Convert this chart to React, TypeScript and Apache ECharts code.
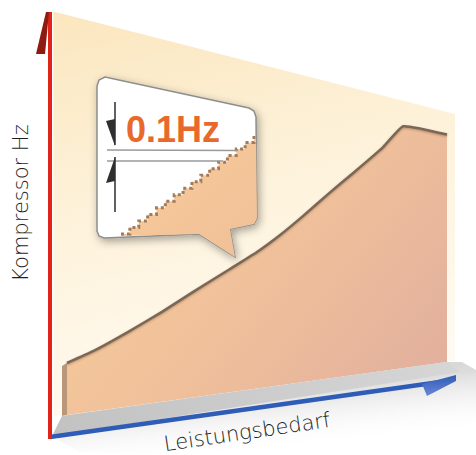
import React, { useEffect, useRef } from "react";
import * as echarts from "echarts";

// Demand curve: load (Leistungsbedarf, % of range) vs compressor frequency (% of range)
const loadPct = [0, 7, 16, 25, 33, 43, 50, 56, 62, 69, 75, 83, 88.5, 100];
const compressorHz = [13, 15.5, 19.8, 24.8, 30, 36.8, 42, 47.5, 54, 62.5, 70, 81, 90.5, 91];

const yAxisLabel = "Kompressor Hz";
const xAxisLabel = "Leistungsbedarf";
const stepLabel = "0.1Hz";
const STEP_COUNT = 15;

// perspective of the drawn plane (style)
const BASE_RISE = 53;
const SHRINK = 0.375;

const FONT = "'DejaVu Sans', 'Liberation Sans', sans-serif";

function makeProjector(api: any) {
  const o = api.coord([0, 0]);
  const r = api.coord([100, 0]);
  const w = r[0] - o[0];
  return (xv: number, yv: number) => {
    const p = api.coord([xv, yv]);
    const u = (p[0] - o[0]) / w;
    const base = o[1] - BASE_RISE * u;
    const k = 1 - SHRINK * u;
    return [p[0], base - (o[1] - p[1]) * k];
  };
}

function stairPoints(x0: number, y0: number, x1: number, y1: number, n: number) {
  const pts: number[][] = [[x0, y0]];
  const dx = (x1 - x0) / n;
  const dy = (y1 - y0) / n;
  let x = x0;
  let y = y0;
  for (let i = 0; i < n; i++) {
    x += dx;
    pts.push([x, y]);
    y += dy;
    pts.push([x, y]);
  }
  return pts;
}

export default function App() {
  const ref = useRef<HTMLDivElement>(null);

  useEffect(() => {
    if (!ref.current) return;
    const chart = echarts.init(ref.current, undefined, { renderer: "svg" });

    const stairs = stairPoints(121, 234, 254, 136, STEP_COUNT);
    const bubbleFill = [
      ...stairs,
      [256, 136],
      [257, 218],
      [254, 224],
      [230, 229],
      [235, 257],
      [199, 234],
      [121, 236],
    ];

    const option: any = {
      animation: false,
      backgroundColor: "#ffffff",
      grid: { left: 67, top: 15, width: 380, height: 400 },
      xAxis: { type: "value", min: 0, max: 100, show: false },
      yAxis: { type: "value", min: 0, max: 100, show: false },
      series: [
        {
          type: "custom",
          name: "plane",
          z: 1,
          silent: true,
          data: [[0, 0]],
          renderItem: (params: any, api: any) => {
            const P = makeProjector(api);
            return {
              type: "polygon",
              shape: { points: [P(-3.6, 100), P(102.1, 100), P(102.1, 0), P(-3.6, 0)] },
              style: {
                fill: {
                  type: "linear",
                  x: 0,
                  y: 0,
                  x2: 0.25,
                  y2: 1,
                  colorStops: [
                    { offset: 0, color: "#fbe6be" },
                    { offset: 0.45, color: "#fdf1d8" },
                    { offset: 1, color: "#fffaf1" },
                  ],
                },
              },
            };
          },
        },
        {
          type: "custom",
          name: yAxisLabel,
          z: 2,
          silent: true,
          data: loadPct.map((x, i) => [x, compressorHz[i]]),
          renderItem: (params: any, api: any) => {
            if (params.dataIndex !== 0) return null;
            const P = makeProjector(api);
            const curve = loadPct.map((x, i) => P(x, compressorHz[i]));
            const b0 = P(0, 0);
            const b1 = P(100, 0);
            const p0 = curve[0];
            return {
              type: "group",
              children: [
                {
                  type: "polygon",
                  shape: { points: [...curve, b1, b0] },
                  style: {
                    fill: {
                      type: "linear",
                      x: 0,
                      y: 0.2,
                      x2: 1,
                      y2: 0.8,
                      colorStops: [
                        { offset: 0, color: "#f8cc99" },
                        { offset: 0.55, color: "#efbf9b" },
                        { offset: 1, color: "#e2b09d" },
                      ],
                    },
                  },
                },
                {
                  type: "polygon",
                  shape: {
                    points: [
                      [p0[0] - 5, p0[1] + 3],
                      p0,
                      b0,
                      [b0[0] - 5, b0[1] + 1],
                    ],
                  },
                  style: { fill: "#b8977b" },
                },
                {
                  type: "polyline",
                  shape: { points: curve, smooth: 0.12 },
                  style: {
                    stroke: "#7b6654",
                    lineWidth: 2.5,
                    fill: null,
                    lineJoin: "round",
                    shadowBlur: 2,
                    shadowColor: "rgba(80,60,40,0.4)",
                    shadowOffsetY: 1,
                  },
                },
              ],
            };
          },
        },
      ],
      graphic: [
        // floor shadow
        {
          type: "polygon",
          z: 3,
          silent: true,
          shape: {
            points: [
              [58, 440],
              [62, 416],
              [447, 362],
              [462, 362],
              [476, 370],
              [476, 455],
              [140, 455],
              [80, 452],
            ],
          },
          style: {
            fill: {
              type: "linear",
              x: 0,
              y: 0,
              x2: 0.45,
              y2: 1,
              colorStops: [
                { offset: 0, color: "#c8c8c8" },
                { offset: 0.45, color: "#dcdcdc" },
                { offset: 1, color: "rgba(255,255,255,0)" },
              ],
            },
          },
        },
        {
          type: "polygon",
          z: 3,
          silent: true,
          shape: {
            points: [
              [62, 416],
              [447, 362],
              [460, 372],
              [52, 436],
            ],
          },
          style: {
            fill: {
              type: "linear",
              x: 0,
              y: 0,
              x2: 1,
              y2: 0,
              colorStops: [
                { offset: 0, color: "#c2c2c2" },
                { offset: 1, color: "#d6d6d6" },
              ],
            },
          },
        },
        // x axis arrow (blue)
        {
          type: "line",
          z: 4,
          silent: true,
          shape: { x1: 50, y1: 437, x2: 440, y2: 382 },
          style: { stroke: "#2f5cb6", lineWidth: 4.5 },
        },
        {
          type: "polygon",
          z: 4,
          silent: true,
          shape: {
            points: [
              [422, 384],
              [456, 375],
              [456, 381],
              [427, 396],
            ],
          },
          style: {
            fill: {
              type: "linear",
              x: 0,
              y: 0,
              x2: 0,
              y2: 1,
              colorStops: [
                { offset: 0, color: "#2f5cb6" },
                { offset: 1, color: "#6a86d8" },
              ],
            },
          },
        },
        // y axis arrow (red)
        {
          type: "line",
          z: 4,
          silent: true,
          shape: { x1: 50, y1: 439, x2: 50, y2: 12 },
          style: { stroke: "#e2231a", lineWidth: 4 },
        },
        {
          type: "polygon",
          z: 5,
          silent: true,
          shape: {
            points: [
              [36, 54],
              [46, 12],
              [49, 12],
              [45, 54],
            ],
          },
          style: { fill: "#8e1a10" },
        },
        // axis titles
        {
          type: "text",
          z: 6,
          x: 21,
          y: 203,
          rotation: Math.PI / 2,
          style: {
            text: yAxisLabel,
            fontSize: 21,
            fontFamily: FONT,
            fontWeight: 300,
            fill: "#1e1e1e",
            align: "center",
            verticalAlign: "middle",
          },
        },
        {
          type: "text",
          z: 6,
          x: 247,
          y: 432,
          rotation: 0.147,
          style: {
            text: xAxisLabel,
            fontSize: 21,
            fontFamily: FONT,
            fontWeight: 300,
            fill: "#1e1e1e",
            align: "center",
            verticalAlign: "middle",
          },
        },
        // callout bubble
        {
          type: "polygon",
          z: 10,
          silent: true,
          shape: {
            points: [
              [97, 86],
              [99, 80],
              [105, 77],
              [249, 108],
              [254, 111],
              [256, 117],
              [257, 218],
              [254, 224],
              [230, 229],
              [235, 257],
              [199, 234],
              [104, 238],
              [99, 236],
              [97, 231],
            ],
          },
          style: {
            fill: "#ffffff",
            stroke: "#8d8d8d",
            lineWidth: 1.5,
            shadowBlur: 8,
            shadowColor: "rgba(0,0,0,0.35)",
            shadowOffsetX: 2,
            shadowOffsetY: 3,
          },
        },
        {
          type: "polygon",
          z: 11,
          silent: true,
          shape: { points: bubbleFill },
          style: {
            fill: {
              type: "linear",
              x: 0,
              y: 0,
              x2: 1,
              y2: 1,
              colorStops: [
                { offset: 0, color: "#f8cc99" },
                { offset: 1, color: "#f0bf98" },
              ],
            },
          },
        },
        {
          type: "polyline",
          z: 12,
          silent: true,
          shape: { points: stairs },
          style: { stroke: "#a37b5b", lineWidth: 3, lineDash: [3, 3], fill: null },
        },
        {
          type: "line",
          z: 12,
          silent: true,
          shape: { x1: 107, y1: 150, x2: 237, y2: 150.5 },
          style: { stroke: "#9a9a9a", lineWidth: 1.6 },
        },
        {
          type: "line",
          z: 12,
          silent: true,
          shape: { x1: 107, y1: 161, x2: 223, y2: 161 },
          style: { stroke: "#9a9a9a", lineWidth: 1.6 },
        },
        {
          type: "line",
          z: 12,
          silent: true,
          shape: { x1: 115, y1: 102, x2: 115, y2: 145 },
          style: { stroke: "#3a3a3a", lineWidth: 1.6 },
        },
        {
          type: "polygon",
          z: 12,
          silent: true,
          shape: {
            points: [
              [106, 121],
              [115, 119],
              [115, 146],
            ],
          },
          style: { fill: "#2f2f2f" },
        },
        {
          type: "line",
          z: 12,
          silent: true,
          shape: { x1: 115, y1: 157, x2: 115, y2: 212 },
          style: { stroke: "#3a3a3a", lineWidth: 1.6 },
        },
        {
          type: "polygon",
          z: 12,
          silent: true,
          shape: {
            points: [
              [115, 157],
              [106, 183],
              [115, 181],
            ],
          },
          style: { fill: "#2f2f2f" },
        },
        {
          type: "text",
          z: 13,
          x: 126,
          y: 129,
          style: {
            text: stepLabel,
            fontSize: 36,
            fontWeight: "bold",
            fontFamily: "'Liberation Sans', Arial, sans-serif",
            fill: "#e8692b",
            align: "left",
            verticalAlign: "middle",
          },
        },
      ],
    };

    chart.setOption(option);
    return () => chart.dispose();
  }, []);

  return (
    <div
      ref={ref}
      style={{ position: "fixed", left: 0, top: 0, width: 476, height: 455 }}
    />
  );
}
